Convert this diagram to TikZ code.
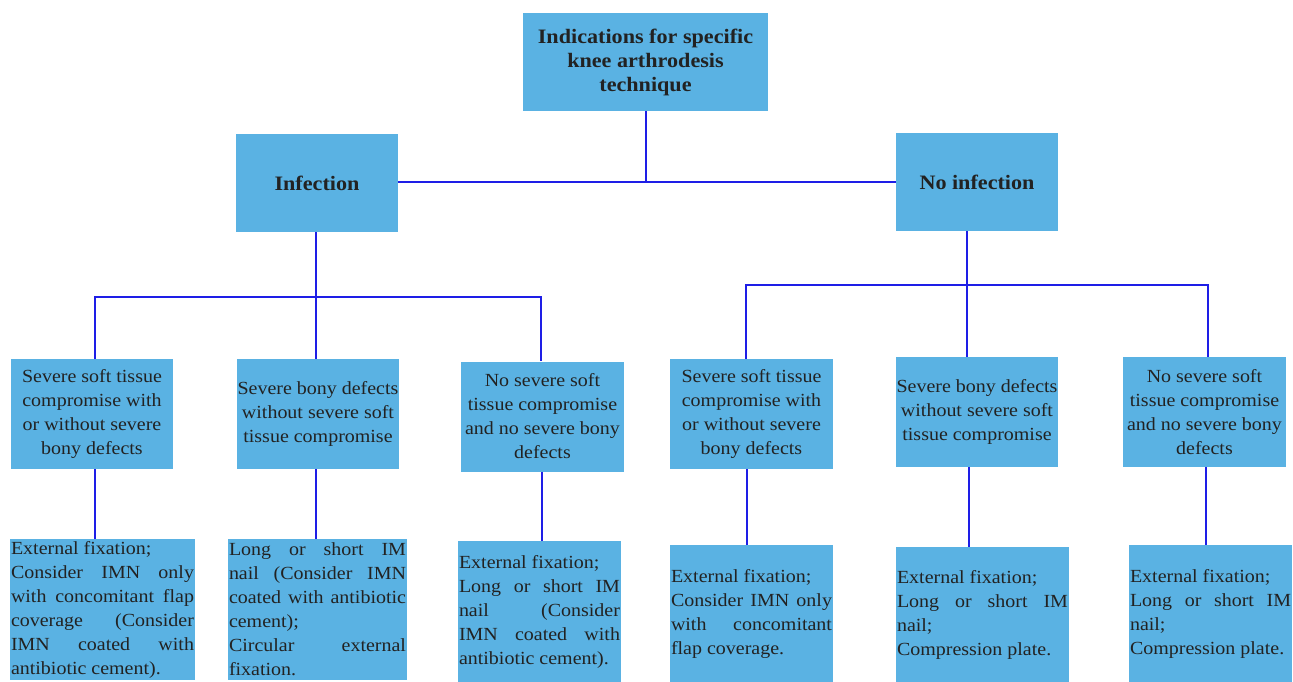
\documentclass[tikz,border=0pt]{standalone}
\usepackage{fontspec}
\setmainfont{Liberation Serif}[FakeStretch=1.08]
\definecolor{boxblue}{HTML}{5AB2E3}
\definecolor{lineblue}{HTML}{1E1EE6}
\definecolor{textgrey}{HTML}{222222}

\begin{document}
\begin{tikzpicture}
[x=1pt,y=-1pt
,every node/.style={fill=boxblue,text=textgrey,inner sep=1pt,font=\fontsize{18.5}{24}\selectfont}
,head/.style={minimum width=#1,minimum height=98pt,align=center,font=\fontsize{20.5}{24}\selectfont\bfseries}
,case/.style={minimum width=#1,minimum height=110pt,align=center}
,tech/.style={minimum width=#1,minimum height=137pt,text width=#1-2pt,align=justify}
,link/.style={draw=lineblue,line width=2pt}
]
\useasboundingbox (0,0) rectangle (1293,682);

\node(top)   at (645.5,62) [head=245pt] {Indications for specific\\knee arthrodesis\\technique};
\node(inf)   at (317,183)  [head=162pt] {Infection};
\node(noinf) at (977,182)  [head=162pt] {No infection};

\node(s1) at (92,414)     [case=162pt] {Severe soft tissue\\compromise with\\or without severe\\bony defects};
\node(s2) at (318,414)    [case=162pt] {Severe bony defects\\without severe soft\\tissue compromise};
\node(s3) at (542.5,416.5)[case=163pt] {No severe soft\\tissue compromise\\and no severe bony\\defects};
\node(s4) at (751.5,414)  [case=163pt] {Severe soft tissue\\compromise with\\or without severe\\bony defects};
\node(s5) at (977,412)    [case=162pt] {Severe bony defects\\without severe soft\\tissue compromise};
\node(s6) at (1204.5,412) [case=163pt] {No severe soft\\tissue compromise\\and no severe bony\\defects};

\node(t1) at (102.5,609.5) [tech=185pt,minimum height=141pt] {External fixation;\\Consider IMN only\linebreak with concomitant flap\linebreak coverage (Consider\linebreak IMN coated with\linebreak antibiotic cement).};
\node(t2) at (317.5,609.5) [tech=179pt,minimum height=141pt] {Long or short IM\linebreak nail (Consider IMN\linebreak coated with antibiotic\linebreak cement);\\Circular external\linebreak fixation.};
\node(t3) at (539.5,611.5) [tech=163pt,minimum height=141pt] {External fixation;\\Long or short IM\linebreak nail (Consider\linebreak IMN coated with\linebreak antibiotic cement).};
\node(t4) at (751.5,613.5) [tech=163pt] {External fixation;\\Consider IMN only\linebreak with concomitant\linebreak flap coverage.};
\node(t5) at (982.5,614.5) [tech=173pt,minimum height=135pt] {External fixation;\\Long or short IM\linebreak nail;\\Compression plate.};
\node(t6) at (1210.5,613.5)[tech=163pt] {External fixation;\\Long or short IM\linebreak nail;\\Compression plate.};

\coordinate(infbar)   at (316,297);
\coordinate(noinfbar) at (967,285);

\draw[link] (inf.east |- noinf.west) -- (noinf.west);
\draw[link] (top.south) -- (top.south |- noinf.west);

\draw[link] (inf.south -| infbar) -- (infbar);
\draw[link] (s1.north -| 95,0) |- (infbar) -| (s3.north -| 541,0);
\draw[link] (infbar) -- (s2.north -| infbar);

\draw[link] (noinf.south -| noinfbar) -- (noinfbar);
\draw[link] (s4.north -| 746,0) |- (noinfbar) -| (s6.north -| 1208,0);
\draw[link] (noinfbar) -- (s5.north -| noinfbar);

\draw[link] (s1.south -| 95,0) -- (t1.north -| 95,0);
\draw[link] (s2.south -| 316,0) -- (t2.north -| 316,0);
\draw[link] (s3.south -| 542,0) -- (t3.north -| 542,0);
\draw[link] (s4.south -| 747,0) -- (t4.north -| 747,0);
\draw[link] (s5.south -| 969,0) -- (t5.north -| 969,0);
\draw[link] (s6.south -| 1206,0) -- (t6.north -| 1206,0);

\end{tikzpicture}
\end{document}
